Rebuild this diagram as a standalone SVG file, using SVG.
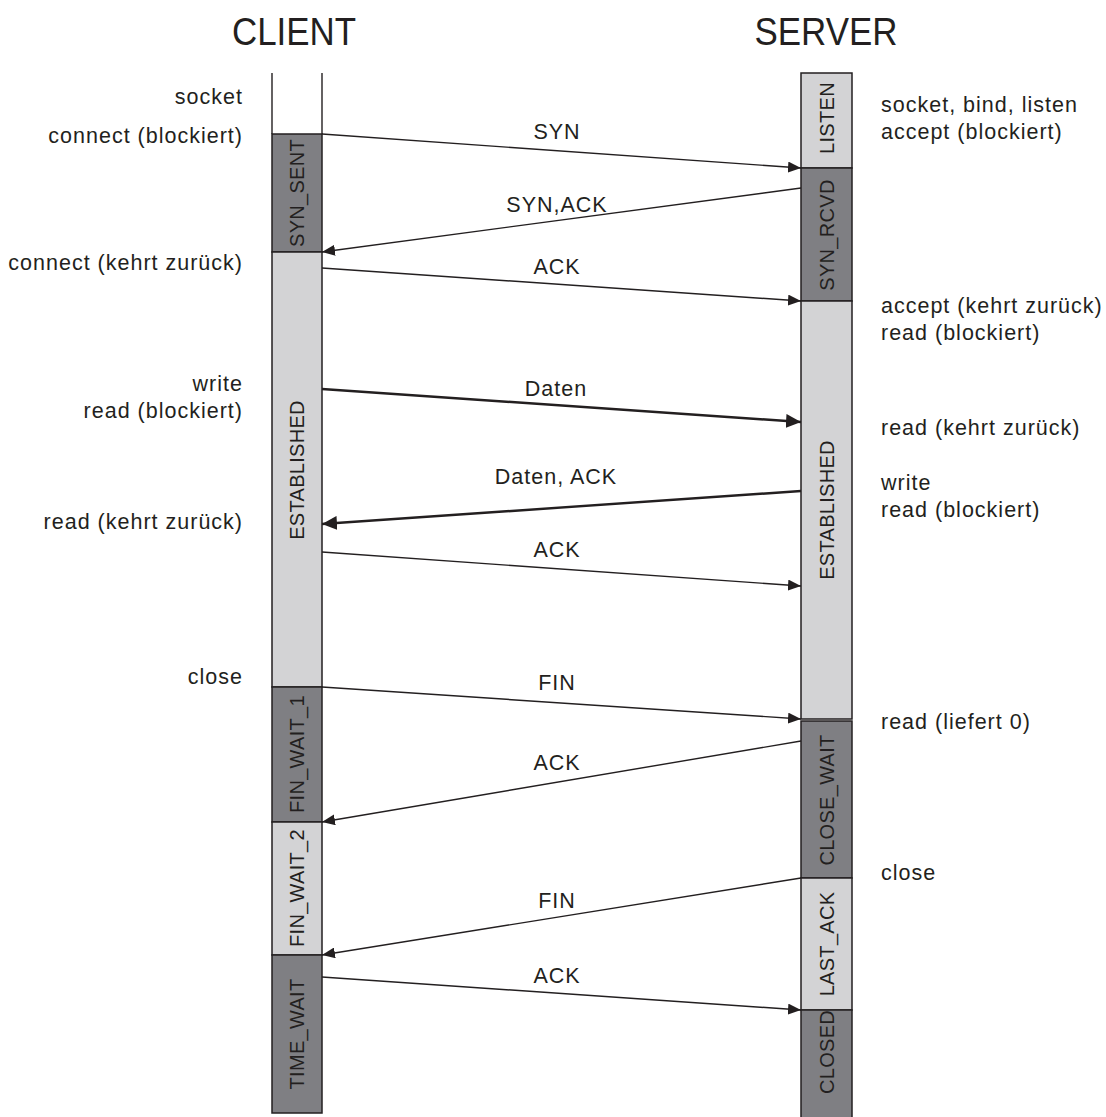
<svg xmlns="http://www.w3.org/2000/svg" width="1106" height="1117" viewBox="0 0 1106 1117">
<style>
text{font-family:"Liberation Sans",Arial,sans-serif;fill:#231f20}
.t{font-size:38px}
.l{font-size:21.5px;letter-spacing:1px}
.r{text-anchor:end}
.m{text-anchor:middle}
.s{font-size:21.5px;letter-spacing:1px;text-anchor:middle}
.v{font-size:20px;letter-spacing:0.3px;text-anchor:middle}
.dk{fill:#7f7f83;stroke:#231f20;stroke-width:1.5}
.lt{fill:#d3d3d5;stroke:#231f20;stroke-width:1.5}
.ln{stroke:#231f20;stroke-width:1.4;fill:none}
.th{stroke:#231f20;stroke-width:2.4;fill:none}
</style>
<defs>
<marker id="ah" markerWidth="13" markerHeight="11" refX="13" refY="5.5" orient="auto" markerUnits="userSpaceOnUse"><path d="M0,0 L13,5.5 L0,11 Z" fill="#231f20"/></marker>
<marker id="ahb" markerWidth="15" markerHeight="14" refX="15" refY="7" orient="auto" markerUnits="userSpaceOnUse"><path d="M0,0 L15,7 L0,14 Z" fill="#231f20"/></marker>
</defs>
<rect width="1106" height="1117" fill="#fff"/>
<g id="titles">
<text class="t m" x="294" y="45" textLength="124" lengthAdjust="spacingAndGlyphs">CLIENT</text>
<text class="t m" x="826" y="45" textLength="143" lengthAdjust="spacingAndGlyphs">SERVER</text>
</g>
<g id="client">
<line class="ln" x1="272" y1="73" x2="272" y2="134"/>
<line class="ln" x1="322" y1="73" x2="322" y2="134"/>
<g id="c-syn-sent"><rect class="dk" x="272" y="134" width="50" height="118"/><text class="v" transform="translate(304,193) rotate(-90)">SYN_SENT</text></g>
<g id="c-established"><rect class="lt" x="272" y="252" width="50" height="435"/><text class="v" transform="translate(304,470) rotate(-90)">ESTABLISHED</text></g>
<g id="c-fin-wait-1"><rect class="dk" x="272" y="687" width="50" height="135"/><text class="v" transform="translate(304,754) rotate(-90)">FIN_WAIT_1</text></g>
<g id="c-fin-wait-2"><rect class="lt" x="272" y="822" width="50" height="133"/><text class="v" transform="translate(304,888) rotate(-90)">FIN_WAIT_2</text></g>
<g id="c-time-wait"><rect class="dk" x="272" y="955" width="50" height="158"/><text class="v" transform="translate(304,1034) rotate(-90)">TIME_WAIT</text></g>
</g>
<g id="server">
<g id="s-listen"><rect class="lt" x="801" y="73" width="51" height="95"/><text class="v" transform="translate(834,118) rotate(-90)">LISTEN</text></g>
<g id="s-syn-rcvd"><rect class="dk" x="801" y="168" width="51" height="133"/><text class="v" transform="translate(834,235) rotate(-90)">SYN_RCVD</text></g>
<g id="s-established"><rect class="lt" x="801" y="301" width="51" height="418"/><text class="v" transform="translate(834,510) rotate(-90)">ESTABLISHED</text></g>
<g id="s-close-wait"><rect class="dk" x="801" y="721" width="51" height="157"/><text class="v" transform="translate(834,800) rotate(-90)">CLOSE_WAIT</text></g>
<g id="s-last-ack"><rect class="lt" x="801" y="878" width="51" height="132"/><text class="v" transform="translate(834,944) rotate(-90)">LAST_ACK</text></g>
<g id="s-closed"><rect class="dk" x="801" y="1010" width="51" height="120"/><text class="v" transform="translate(834,1052) rotate(-90)">CLOSED</text></g>
</g>
<g id="connectors">
<line class="ln" x1="322" y1="134" x2="801" y2="168" marker-end="url(#ah)"/>
<line class="ln" x1="801" y1="188" x2="322" y2="252" marker-end="url(#ah)"/>
<line class="ln" x1="322" y1="268" x2="801" y2="301" marker-end="url(#ah)"/>
<line class="th" x1="322" y1="389" x2="801" y2="422" marker-end="url(#ahb)"/>
<line class="th" x1="801" y1="491" x2="322" y2="524" marker-end="url(#ahb)"/>
<line class="ln" x1="322" y1="552" x2="801" y2="586" marker-end="url(#ah)"/>
<line class="ln" x1="322" y1="687" x2="801" y2="719" marker-end="url(#ah)"/>
<line class="ln" x1="801" y1="741" x2="322" y2="822" marker-end="url(#ah)"/>
<line class="ln" x1="801" y1="878" x2="322" y2="955" marker-end="url(#ah)"/>
<line class="ln" x1="322" y1="977" x2="801" y2="1010" marker-end="url(#ah)"/>
</g>
<g id="connector-labels">
<text class="s" x="557" y="139">SYN</text>
<text class="s" x="557" y="212">SYN,ACK</text>
<text class="s" x="557" y="274">ACK</text>
<text class="s" x="556" y="396">Daten</text>
<text class="s" x="556" y="484">Daten, ACK</text>
<text class="s" x="557" y="557">ACK</text>
<text class="s" x="557" y="690">FIN</text>
<text class="s" x="557" y="770">ACK</text>
<text class="s" x="557" y="908">FIN</text>
<text class="s" x="557" y="983">ACK</text>
</g>
<g id="client-calls">
<text class="l r" x="243" y="104">socket</text>
<text class="l r" x="243" y="143">connect (blockiert)</text>
<text class="l r" x="243" y="270">connect (kehrt zurück)</text>
<text class="l r" x="243" y="391">write</text>
<text class="l r" x="243" y="418">read (blockiert)</text>
<text class="l r" x="243" y="529">read (kehrt zurück)</text>
<text class="l r" x="243" y="684">close</text>
</g>
<g id="server-calls">
<text class="l" x="881" y="112">socket, bind, listen</text>
<text class="l" x="881" y="139">accept (blockiert)</text>
<text class="l" x="881" y="313">accept (kehrt zurück)</text>
<text class="l" x="881" y="340">read (blockiert)</text>
<text class="l" x="881" y="435">read (kehrt zurück)</text>
<text class="l" x="881" y="490">write</text>
<text class="l" x="881" y="517">read (blockiert)</text>
<text class="l" x="881" y="729">read (liefert 0)</text>
<text class="l" x="881" y="880">close</text>
</g>
</svg>
